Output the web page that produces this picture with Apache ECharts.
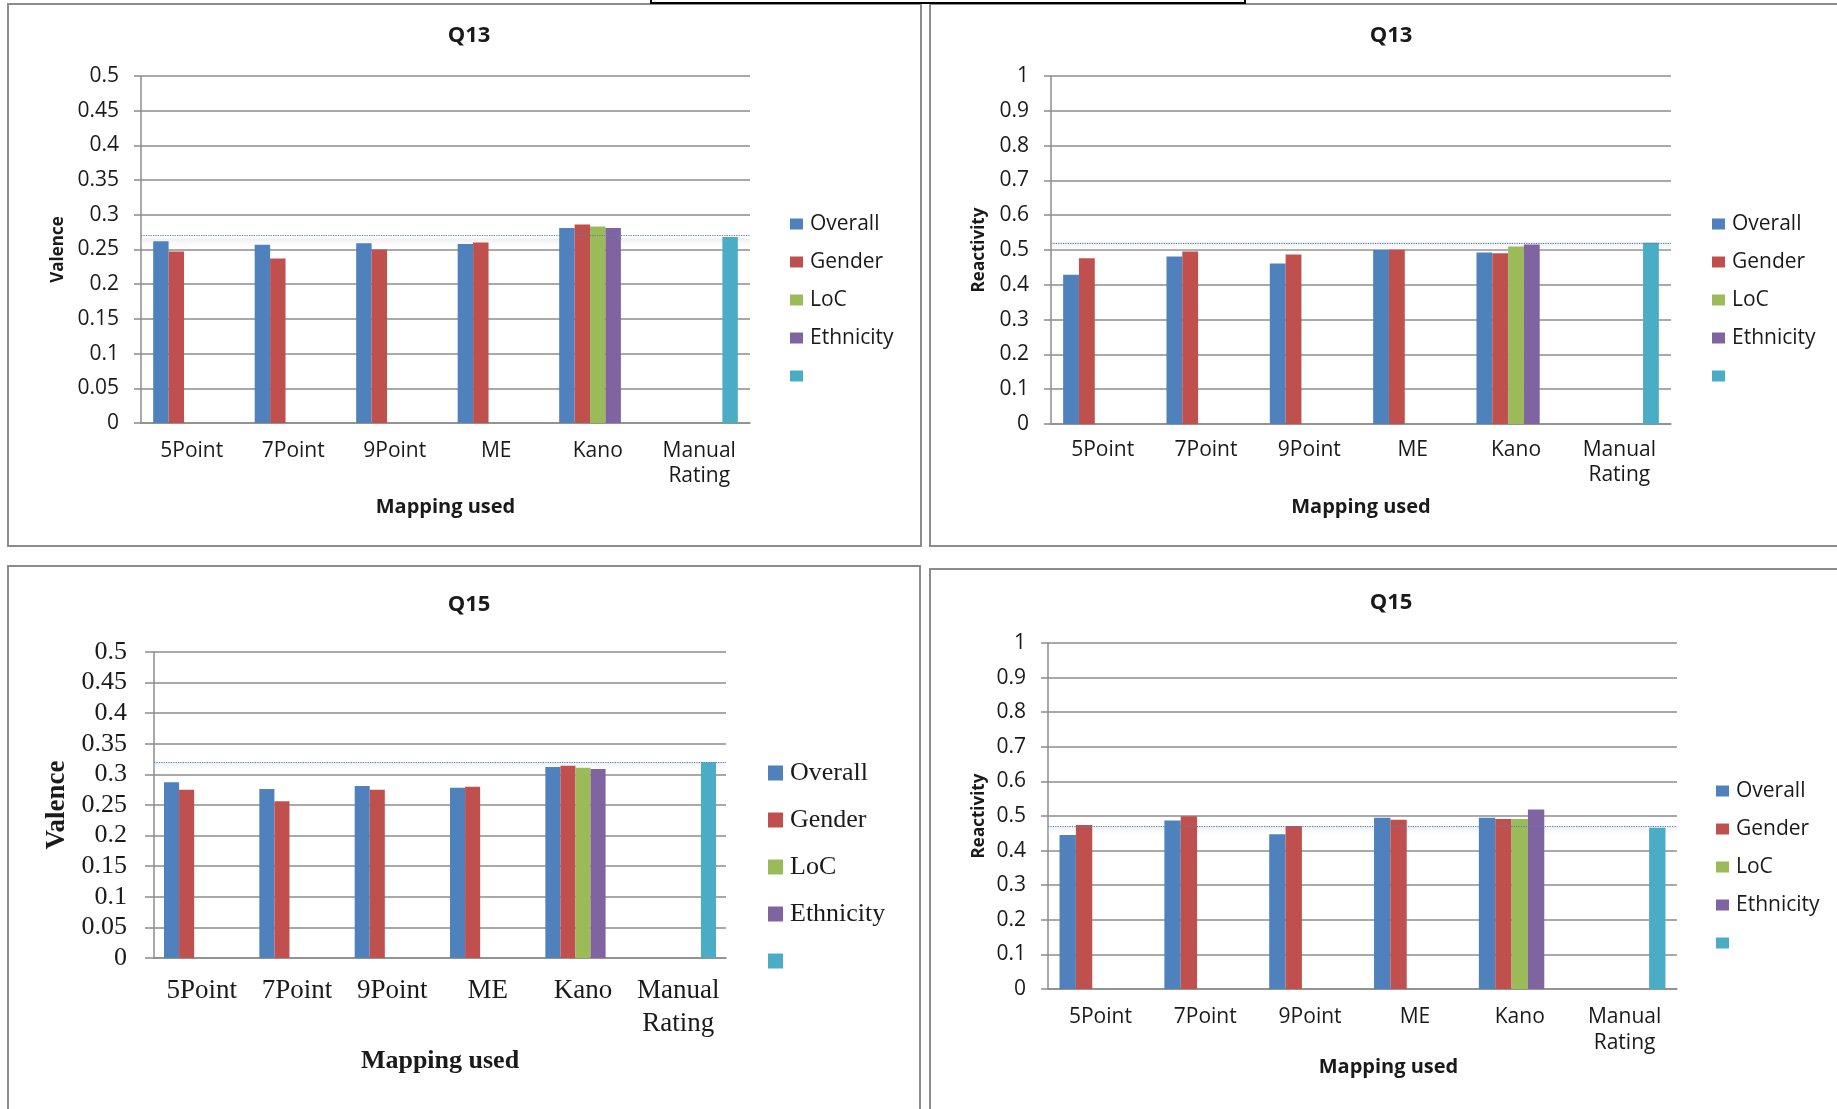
<!DOCTYPE html>
<html>
<head>
<meta charset="utf-8">
<script src="https://cdn.jsdelivr.net/npm/echarts@6/dist/echarts.min.js"></script>
<style>
html,body{margin:0;padding:0;background:#fff;}
#chart{width:1837px;height:1109px;}
</style>
</head>
<body>
<div id="chart"></div>
<script>
// ---------- data ----------
const categories = ['5Point', '7Point', '9Point', 'ME', 'Kano', 'Manual\nRating'];
const seriesNames = ['Overall', 'Gender', 'LoC', 'Ethnicity', ' '];
const panelTitles = ['Q13', 'Q13', 'Q15', 'Q15'];
const yAxisNames = ['Valence', 'Reactivity', 'Valence', 'Reactivity'];
const xAxisName = 'Mapping used';

// Q13 Valence
const q13ValOverall   = [0.262, 0.257, 0.259, 0.258, 0.281, null];
const q13ValGender    = [0.247, 0.237, 0.250, 0.260, 0.286, null];
const q13ValLoC       = [null, null, null, null, 0.283, null];
const q13ValEthnicity = [null, null, null, null, 0.281, null];
const q13ValManual    = [null, null, null, null, null, 0.268];

// Q13 Reactivity
const q13ReaOverall   = [0.429, 0.481, 0.461, 0.500, 0.493, null];
const q13ReaGender    = [0.476, 0.496, 0.487, 0.501, 0.491, null];
const q13ReaLoC       = [null, null, null, null, 0.510, null];
const q13ReaEthnicity = [null, null, null, null, 0.516, null];
const q13ReaManual    = [null, null, null, null, null, 0.521];

// Q15 Valence
const q15ValOverall   = [0.287, 0.276, 0.281, 0.278, 0.312, null];
const q15ValGender    = [0.275, 0.256, 0.275, 0.280, 0.314, null];
const q15ValLoC       = [null, null, null, null, 0.311, null];
const q15ValEthnicity = [null, null, null, null, 0.309, null];
const q15ValManual    = [null, null, null, null, null, 0.320];

// Q15 Reactivity
const q15ReaOverall   = [0.445, 0.487, 0.447, 0.495, 0.495, null];
const q15ReaGender    = [0.474, 0.499, 0.471, 0.489, 0.491, null];
const q15ReaLoC       = [null, null, null, null, 0.491, null];
const q15ReaEthnicity = [null, null, null, null, 0.519, null];
const q15ReaManual    = [null, null, null, null, null, 0.466];

// dotted reference lines
const referenceLines = [0.266, 0.523, 0.320, 0.470];

// y-axis scales
const yMax = [0.5, 1, 0.5, 1];
const yInterval = [0.05, 0.1, 0.05, 0.1];

const panelData = [
  [q13ValOverall, q13ValGender, q13ValLoC, q13ValEthnicity, q13ValManual],
  [q13ReaOverall, q13ReaGender, q13ReaLoC, q13ReaEthnicity, q13ReaManual],
  [q15ValOverall, q15ValGender, q15ValLoC, q15ValEthnicity, q15ValManual],
  [q15ReaOverall, q15ReaGender, q15ReaLoC, q15ReaEthnicity, q15ReaManual]
];

// ---------- layout / style ----------
const colors = ['#4F81BD', '#C0504D', '#9BBB59', '#8064A2', '#4BACC6'];
const SANS = '"Open Sans", "Noto Sans", sans-serif';
const SERIF = '"Liberation Serif", "DejaVu Serif", serif';
const TXT = '#1a1a1a';
const GRIDC = '#8c8c8c';

const layout = [
  { grid: {left: 141, top: 76, width: 609, height: 347}, font: SANS, tick: 21, cat: 21, catLH: 25, catMargin: 16,
    labMargin: 22, tickLen: 7, yName: 17, yNameGap: 74, xName: 20, xNameGap: 74, xNamePad: 0,
    title: {x: 464, y: 20, size: 22}, legend: {x: 785, y: 208, size: 21, lh: 22, gap: 16, iw: 13, ih: 11},
    catGap: '24%' },
  { grid: {left: 1051, top: 76, width: 620, height: 348}, font: SANS, tick: 21, cat: 21, catLH: 25, catMargin: 14,
    labMargin: 22, tickLen: 7, yName: 17, yNameGap: 63, xName: 20, xNameGap: 73, xNamePad: 0,
    title: {x: 1386, y: 20, size: 22}, legend: {x: 1707, y: 208, size: 21, lh: 22, gap: 16, iw: 13, ih: 11},
    catGap: '23.5%' },
  { grid: {left: 154, top: 652, width: 572, height: 306}, font: SERIF, tick: 26, cat: 27, catLH: 33, catMargin: 16,
    labMargin: 27, tickLen: 9, yName: 27, yNameGap: 83, xName: 26, xNameGap: 90, xNamePad: 0,
    title: {x: 464, y: 589, size: 22}, legend: {x: 763, y: 754, size: 26, lh: 28, gap: 19, iw: 15, ih: 15},
    catGap: '21%' },
  { grid: {left: 1048, top: 643, width: 629, height: 346}, font: SANS, tick: 21, cat: 21, catLH: 26, catMargin: 15,
    labMargin: 22, tickLen: 7, yName: 17, yNameGap: 60, xName: 20, xNameGap: 65, xNamePad: 52,
    title: {x: 1386, y: 587, size: 22}, legend: {x: 1711, y: 775, size: 21, lh: 22, gap: 16, iw: 13, ih: 11},
    catGap: '22%' }
];

const option = {
  animation: false,
  backgroundColor: '#fff',
  color: colors,
  title: [], legend: [], grid: [], xAxis: [], yAxis: [], series: [],
  graphic: [
    {type: 'rect', shape: {x: 8, y: 4, width: 913, height: 542}, style: {fill: 'none', stroke: GRIDC, lineWidth: 2}, silent: true},
    {type: 'rect', shape: {x: 930, y: 4, width: 940, height: 542}, style: {fill: 'none', stroke: GRIDC, lineWidth: 2}, silent: true},
    {type: 'rect', shape: {x: 8, y: 566, width: 912, height: 580}, style: {fill: 'none', stroke: GRIDC, lineWidth: 2}, silent: true},
    {type: 'rect', shape: {x: 930, y: 569, width: 940, height: 580}, style: {fill: 'none', stroke: GRIDC, lineWidth: 2}, silent: true},
    {type: 'rect', shape: {x: 651, y: -4, width: 594, height: 7}, style: {fill: '#fff', stroke: '#000', lineWidth: 2}, silent: true}
  ]
};

layout.forEach((L, i) => {
  option.title.push({
    text: panelTitles[i], left: L.title.x, top: L.title.y, textAlign: 'center',
    textStyle: {fontFamily: SANS, fontWeight: 'bold', fontSize: L.title.size, color: TXT}
  });
  option.legend.push({
    data: seriesNames, orient: 'vertical', left: L.legend.x, top: L.legend.y,
    icon: 'rect', itemWidth: L.legend.iw, itemHeight: L.legend.ih, itemGap: L.legend.gap,
    selectedMode: false,
    textStyle: {fontFamily: L.font, fontSize: L.legend.size, lineHeight: L.legend.lh, color: TXT, padding: [0, 0, 0, 2]}
  });
  option.grid.push(Object.assign({containLabel: false}, L.grid));
  option.xAxis.push({
    type: 'category', gridIndex: i, data: categories,
    name: xAxisName, nameLocation: 'middle', nameGap: L.xNameGap,
    nameTextStyle: {fontFamily: L.font, fontWeight: 'bold', fontSize: L.xName, color: TXT, padding: [0, 0, 0, L.xNamePad]},
    axisLine: {show: true, lineStyle: {color: GRIDC, width: 1.5}},
    axisTick: {show: false},
    axisLabel: {interval: 0, margin: L.catMargin, fontFamily: L.font, fontSize: L.cat, lineHeight: L.catLH, color: TXT},
    splitLine: {show: false}
  });
  option.yAxis.push({
    type: 'value', gridIndex: i, min: 0, max: yMax[i], interval: yInterval[i],
    name: yAxisNames[i], nameLocation: 'middle', nameGap: L.yNameGap, nameRotate: 90,
    nameTextStyle: {fontFamily: L.font, fontWeight: 'bold', fontSize: L.yName, color: TXT},
    axisLine: {show: true, lineStyle: {color: GRIDC, width: 1.5}},
    axisTick: {show: true, length: L.tickLen, lineStyle: {color: GRIDC, width: 1.5}},
    axisLabel: {margin: L.labMargin, fontFamily: L.font, fontSize: L.tick, color: TXT},
    splitLine: {show: true, lineStyle: {color: GRIDC, width: 1.5}}
  });
  panelData[i].forEach((vals, s) => {
    const ser = {
      type: 'bar', name: seriesNames[s], xAxisIndex: i, yAxisIndex: i,
      data: vals, barGap: '0%', barCategoryGap: L.catGap,
      itemStyle: {color: colors[s]},
      emphasis: {disabled: true}
    };
    if (s === 4) {
      ser.markLine = {
        silent: true, symbol: ['none', 'none'],
        label: {show: false},
        lineStyle: {type: 'dotted', color: '#4F81BD', width: 1.2},
        data: [{yAxis: referenceLines[i]}]
      };
      ser.markArea = {
        silent: true,
        itemStyle: {
          color: new echarts.graphic.LinearGradient(0, 0, 0, 1, [
            {offset: 0, color: 'rgba(200,200,200,0.35)'},
            {offset: 1, color: 'rgba(255,255,255,0)'}
          ])
        },
        data: [[{yAxis: referenceLines[i]}, {yAxis: referenceLines[i] - yMax[i] * 0.03}]]
      };
    }
    option.series.push(ser);
  });
});

const chart = echarts.init(document.getElementById('chart'), null, {renderer: 'canvas'});
chart.setOption(option);
</script>
</body>
</html>
